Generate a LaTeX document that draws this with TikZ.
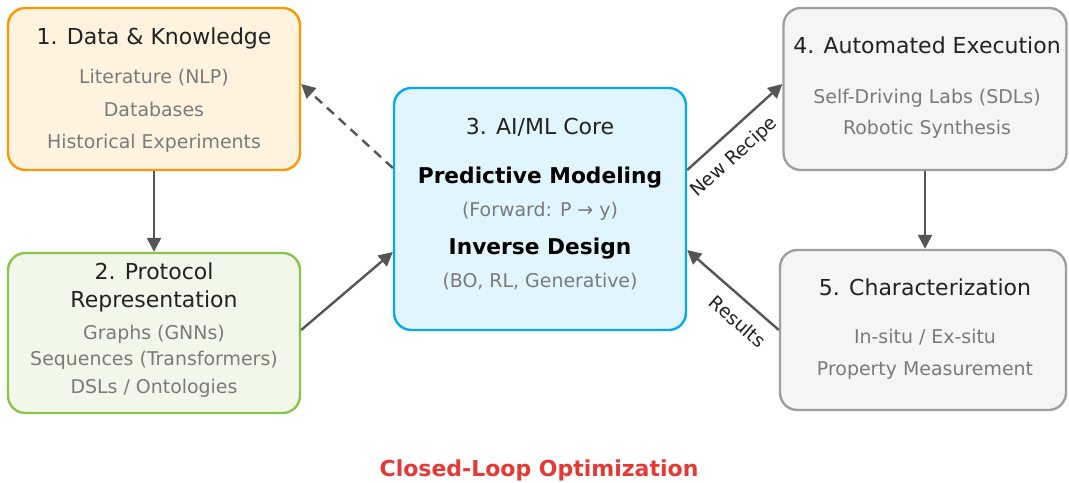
\documentclass[tikz,border=0pt]{standalone}
\usepackage{fontspec}
\setmainfont{DejaVu Sans}
\usetikzlibrary{arrows.meta}
\definecolor{o1}{HTML}{FF9800}\definecolor{o1f}{HTML}{FFF3E0}
\definecolor{g1}{HTML}{8BC34A}\definecolor{g1f}{HTML}{F1F8E9}
\definecolor{b1c}{HTML}{03A9F4}\definecolor{b1f}{HTML}{E1F5FE}
\definecolor{n1}{HTML}{9E9E9E}\definecolor{n1f}{HTML}{F5F5F5}
\definecolor{arr}{HTML}{555555}
\definecolor{tt}{HTML}{222222}
\definecolor{st}{HTML}{7A7A7A}
\definecolor{red1}{HTML}{E53935}
\tikzset{
  boxbase/.style={draw, rounded corners=13pt, line width=1.8pt, inner sep=0pt},
  txt/.style={inner sep=0pt, text height=0.72em, text depth=0pt, yshift=-1.6pt},
  ttl/.style={txt, font=\fontsize{16.5}{19}\selectfont, text=tt},
  sub/.style={txt, font=\fontsize{14.2}{17}\selectfont, text=st},
  bld/.style={txt, font=\fontsize{16.3}{19}\selectfont\bfseries, text=black},
  conn/.style={draw=arr, line width=1.8pt, -{Triangle[length=10.5pt,width=10.5pt]}},
  lbl/.style={font=\fontsize{14}{16}\selectfont, text=tt, sloped, inner sep=3pt},
}
\begin{document}
\begin{tikzpicture}[x=0.75pt,y=-0.75pt]
\useasboundingbox (0,0) rectangle (1069,482);
% boxes
\node[boxbase, draw=o1, fill=o1f, minimum width=219pt, minimum height=121.5pt] (b1) at (154,89) {};
\node[boxbase, draw=g1, fill=g1f, minimum width=219pt, minimum height=120pt] (b2) at (154,333) {};
\node[boxbase, draw=b1c, fill=b1f, minimum width=219pt, minimum height=181.5pt] (b3) at (540,209) {};
\node[boxbase, draw=n1, fill=n1f, minimum width=212.25pt, minimum height=121.5pt] (b4) at (925,89) {};
\node[boxbase, draw=n1, fill=n1f, minimum width=214.5pt, minimum height=120pt] (b5) at (923,330) {};
% box 1 text
\node[ttl] (t1) at (154,38) {1. Data \& Knowledge};
\node[sub] (t1a) at (154,77) {Literature (NLP)};
\node[sub] (t1b) at (154,110) {Databases};
\node[sub] (t1c) at (154,142) {Historical Experiments};
% box 2 text
\node[ttl] (t2) at (154,273) {2. Protocol};
\node[ttl] (t2x) at (154,301) {Representation};
\node[sub] (t2a) at (154,333) {Graphs (GNNs)};
\node[sub] (t2b) at (154,359) {Sequences (Transformers)};
\node[sub] (t2c) at (154,387) {DSLs / Ontologies};
% box 3 text
\node[ttl] (t3) at (540,128) {3. AI/ML Core};
\node[bld] (t3a) at (540,177) {Predictive Modeling};
\node[sub] (t3b) at (540,210) {(Forward: P → y)};
\node[bld] (t3c) at (540,248) {Inverse Design};
\node[sub] (t3d) at (540,281) {(BO, RL, Generative)};
% box 4 text
\node[ttl] (t4) at (927,47) {4. Automated Execution};
\node[sub] (t4a) at (927,97) {Self-Driving Labs (SDLs)};
\node[sub] (t4b) at (927,128) {Robotic Synthesis};
% box 5 text
\node[ttl] (t5) at (925,289) {5. Characterization};
\node[sub] (t5a) at (925,337) {In-situ / Ex-situ};
\node[sub] (t5b) at (925,369) {Property Measurement};
% bottom caption
\node[txt, font=\fontsize{16.5}{19}\selectfont\bfseries, text=red1] (cap) at (539,470) {Closed-Loop Optimization};
% connectors
\coordinate (c4s) at (b4.south -| 925,0);
\draw[conn] (b1.south) -- (b2.north);
\draw[conn] (b2.east |- 0,330) -- (b3.west |- 0,252);
\draw[conn, dashed, dash pattern=on 7pt off 5pt] (b3.west |- 0,168) -- (b1.east |- 0,84);
\draw[conn] (b3.east |- 0,170) -- node[lbl, pos=0.34, below=6pt] (lnr) {New Recipe} (b4.west |- 0,84);
\draw[conn] (c4s) -- (c4s |- b5.north);
\draw[conn, {Triangle[length=10.5pt,width=10.5pt]}-] (b3.east |- 0,250) -- node[lbl, pos=0.7, below=6pt] (lres) {Results} (b5.west |- 0,330);
\end{tikzpicture}
\end{document}
